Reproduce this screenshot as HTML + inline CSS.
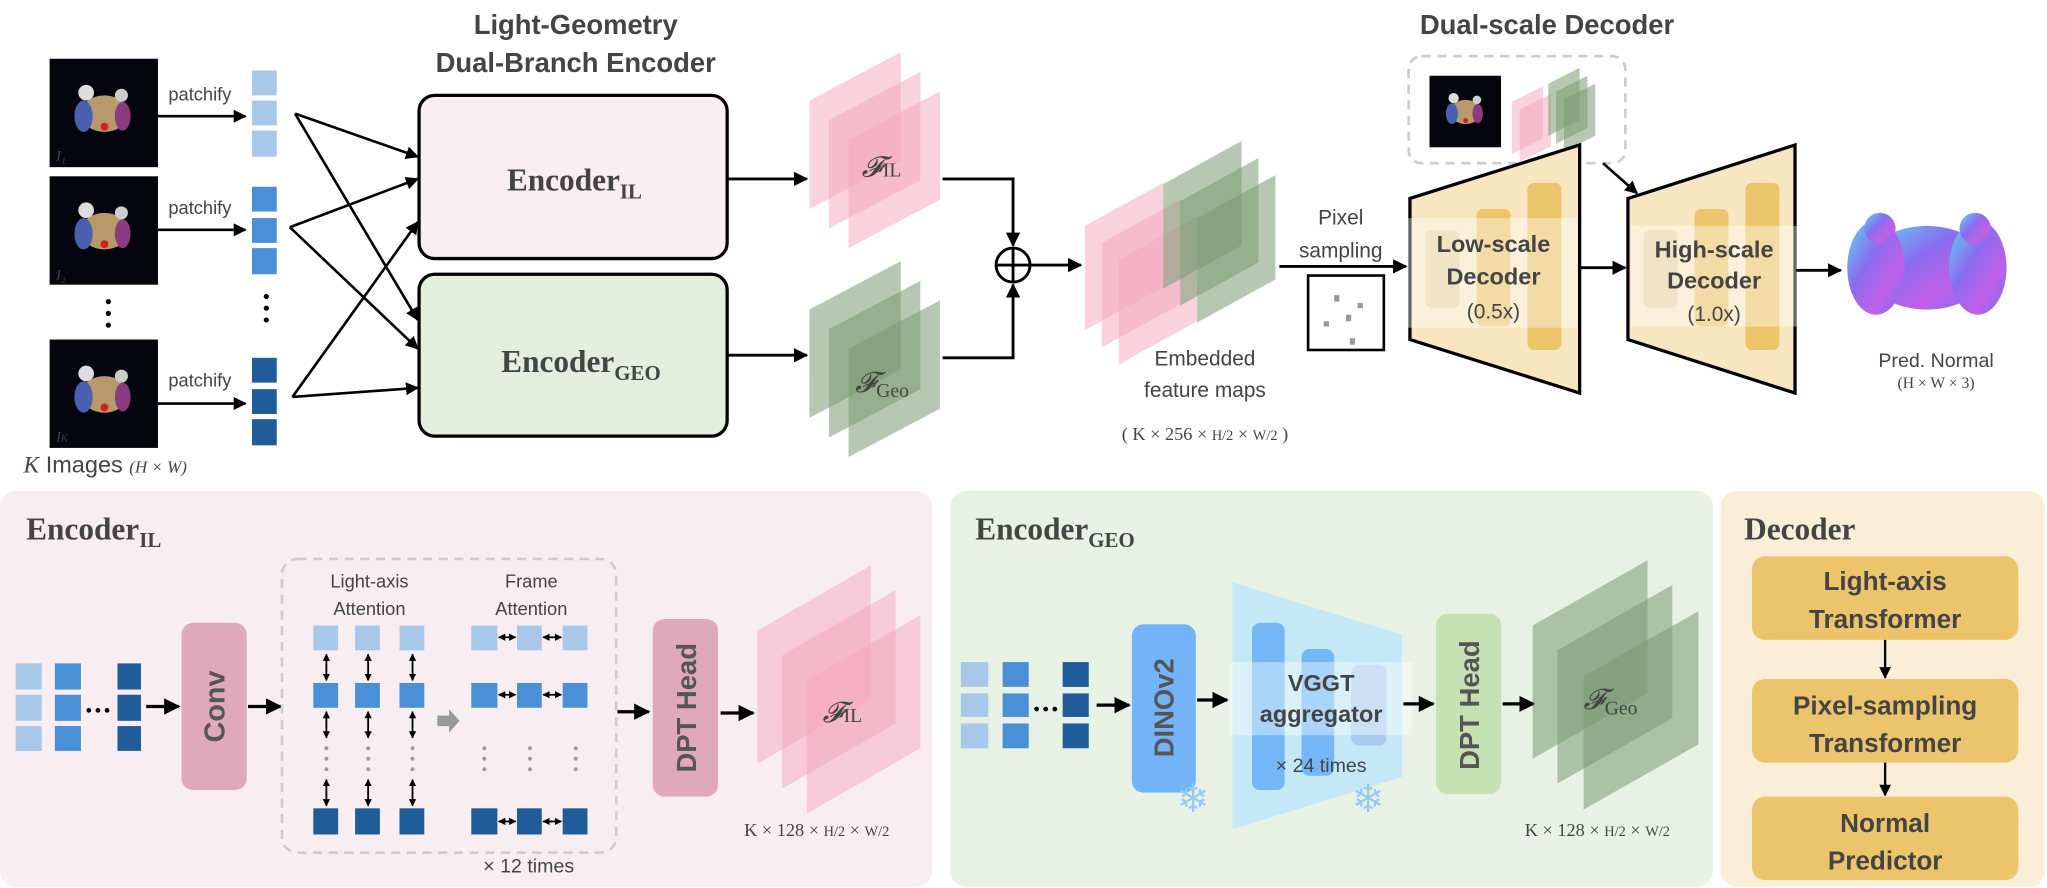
<!DOCTYPE html>
<html><head><meta charset="utf-8"><style>
html,body{margin:0;padding:0;background:#fff;}
svg{display:block;}
.t{font-family:"Liberation Sans Narrow","Liberation Sans",sans-serif;fill:#444;}
.s{font-family:"Liberation Serif",serif;fill:#444;}
.b{font-weight:bold;}
</style></head><body>
<svg width="2047" height="888" viewBox="0 0 1568 680" preserveAspectRatio="none" xmlns="http://www.w3.org/2000/svg">
<defs>
<marker id="ah" viewBox="0 0 10 10" refX="9" refY="5" markerWidth="5" markerHeight="5" orient="auto-start-reverse"><path d="M0,0 L10,5 L0,10 z" fill="#000"/></marker>
<marker id="as" viewBox="0 0 10 10" refX="9" refY="5" markerWidth="4" markerHeight="4" orient="auto-start-reverse"><path d="M0,0 L10,5 L0,10 z" fill="#000"/></marker>
<linearGradient id="ng" x1="0" y1="0" x2="1" y2="1"><stop offset="0" stop-color="#5fd8f0"/><stop offset="0.4" stop-color="#8a6cf0"/><stop offset="0.7" stop-color="#c060e8"/><stop offset="1" stop-color="#6f70f5"/></linearGradient>
<g id="thumb"><rect width="83" height="83" fill="#05050f"/><ellipse cx="42" cy="42" rx="18" ry="14" fill="#b89a6a"/><ellipse cx="26" cy="44" rx="7" ry="12" fill="#4a5fb0"/><ellipse cx="56" cy="44" rx="6" ry="11" fill="#8a3a80"/><circle cx="28" cy="26" r="6" fill="#ddd"/><circle cx="55" cy="28" r="5" fill="#ccc"/><circle cx="42" cy="52" r="3" fill="#d02020"/></g>
</defs>

<text class="t b" x="441" y="26" font-size="21" text-anchor="middle">Light-Geometry</text>
<text class="t b" x="441" y="55" font-size="21" text-anchor="middle">Dual-Branch Encoder</text>
<text class="t b" x="1185" y="26" font-size="21" text-anchor="middle">Dual-scale Decoder</text>

<use href="#thumb" x="38" y="45"/><text class="s" x="43" y="123" font-size="11" font-style="italic" fill="#666">I₁</text>
<use href="#thumb" x="38" y="135"/><text class="s" x="43" y="214" font-size="11" font-style="italic" fill="#666">I₂</text>
<use href="#thumb" x="38" y="260"/><text class="s" x="43" y="338" font-size="11" font-style="italic" fill="#666">I<tspan font-size="8">K</tspan></text>
<g fill="#000"><circle cx="83" cy="231" r="2"/><circle cx="83" cy="240" r="2"/><circle cx="83" cy="249" r="2"/><circle cx="204" cy="227" r="2"/><circle cx="204" cy="236" r="2"/><circle cx="204" cy="245" r="2"/></g>
<text class="t" x="18" y="362" font-size="18" fill="#333"><tspan font-family="Liberation Serif" font-style="italic">K</tspan> Images <tspan font-size="13" font-family="Liberation Serif" font-style="italic">(H × W)</tspan></text>

<g fill="#a8c8ea"><rect x="193" y="54" width="19" height="19"/><rect x="193" y="77" width="19" height="19"/><rect x="193" y="100" width="19" height="20"/></g>
<g fill="#4a90d6"><rect x="193" y="143" width="19" height="19"/><rect x="193" y="167" width="19" height="19"/><rect x="193" y="190" width="19" height="20"/></g>
<g fill="#1f5c99"><rect x="193" y="274" width="19" height="19"/><rect x="193" y="298" width="19" height="19"/><rect x="193" y="321" width="19" height="20"/></g>
<g class="t" font-size="14" fill="#333"><text x="129" y="77">patchify</text><text x="129" y="164">patchify</text><text x="129" y="296">patchify</text></g>
<g stroke="#000" stroke-width="2" fill="none" marker-end="url(#ah)">
<line x1="121" y1="89" x2="188" y2="89"/><line x1="121" y1="176" x2="188" y2="176"/><line x1="121" y1="309" x2="188" y2="309"/>
<line x1="226" y1="87" x2="320" y2="120"/><line x1="226" y1="87" x2="320" y2="245"/>
<line x1="222" y1="174" x2="320" y2="137"/><line x1="222" y1="174" x2="320" y2="267"/>
<line x1="224" y1="304" x2="320" y2="170"/><line x1="224" y1="304" x2="320" y2="297"/>
</g>

<rect x="321" y="73" width="236" height="125" rx="12" fill="#faeef2" stroke="#000" stroke-width="2.5"/>
<rect x="321" y="210" width="236" height="124" rx="12" fill="#e3efdc" stroke="#000" stroke-width="2.5"/>
<text class="s b" x="440" y="146" font-size="24" text-anchor="middle">Encoder<tspan font-size="16" dy="6">IL</tspan></text>
<text class="s b" x="445" y="285" font-size="24" text-anchor="middle">Encoder<tspan font-size="16" dy="6">GEO</tspan></text>
<g stroke="#000" stroke-width="2.2" fill="none" marker-end="url(#ah)">
<line x1="557" y1="137" x2="618" y2="137"/><line x1="557" y1="272" x2="618" y2="272"/>
</g>

<g fill="#f4a6be" fill-opacity="0.5">
<polygon points="620,77 690,40 690,123 620,160"/><polygon points="635,92 705,55 705,138 635,175"/><polygon points="650,107 720,70 720,153 650,190"/>
</g>
<g fill="#7a9a72" fill-opacity="0.55">
<polygon points="620,237 690,200 690,283 620,320"/><polygon points="635,252 705,215 705,298 635,335"/><polygon points="650,267 720,230 720,313 650,350"/>
</g>
<text class="s" x="660" y="135" font-size="22" font-style="italic" fill="#555">𝓕<tspan font-size="15" font-style="normal">IL</tspan></text>
<text class="s" x="655" y="300" font-size="22" font-style="italic" fill="#555">𝓕<tspan font-size="15" font-style="normal" dy="4">Geo</tspan></text>
<g stroke="#000" stroke-width="2.2" fill="none">
<polyline points="722,137 776,137 776,188" marker-end="url(#ah)"/>
<polyline points="722,274 776,274 776,218" marker-end="url(#ah)"/>
<circle cx="776" cy="203" r="13"/>
<line x1="763" y1="203" x2="789" y2="203"/><line x1="776" y1="190" x2="776" y2="216"/>
<line x1="790" y1="203" x2="828" y2="203" marker-end="url(#ah)"/>
</g>

<g fill="#f4a6be" fill-opacity="0.5">
<polygon points="831,173 891,140 891,220 831,253"/><polygon points="844,186 904,153 904,233 844,266"/><polygon points="857,199 917,166 917,246 857,279"/>
</g>
<g fill="#7a9a72" fill-opacity="0.55">
<polygon points="891,141 951,108 951,188 891,221"/><polygon points="904,154 964,121 964,201 904,234"/><polygon points="917,167 977,134 977,214 917,247"/>
</g>
<g class="t" font-size="16" fill="#444" text-anchor="middle"><text x="923" y="280">Embedded</text><text x="923" y="304">feature maps</text></g>
<text class="s" x="923" y="337" font-size="14" text-anchor="middle" fill="#444">( K × 256 × <tspan font-size="11">H/2</tspan> × <tspan font-size="11">W/2</tspan> )</text>

<g class="t" font-size="16" fill="#333" text-anchor="middle"><text x="1027" y="172">Pixel</text><text x="1027" y="197">sampling</text></g>
<line x1="980" y1="204" x2="1077" y2="204" stroke="#000" stroke-width="2.2" marker-end="url(#ah)"/>
<rect x="1002" y="211" width="58" height="57" fill="#fff" stroke="#000" stroke-width="2"/>
<g fill="#999"><rect x="1022" y="226" width="4" height="5"/><rect x="1040" y="232" width="4" height="4"/><rect x="1031" y="241" width="4" height="5"/><rect x="1014" y="246" width="4" height="4"/><rect x="1034" y="259" width="4" height="5"/></g>

<rect x="1079" y="43" width="166" height="82" rx="10" fill="none" stroke="#ccc" stroke-width="2" stroke-dasharray="7,5"/>
<use href="#thumb" transform="translate(1095,58) scale(0.66)"/>
<g fill="#f4a6be" fill-opacity="0.5"><polygon points="1158,78 1182,66 1182,106 1158,118"/><polygon points="1164,84 1188,72 1188,112 1164,124"/></g>
<g fill="#7a9a72" fill-opacity="0.55"><polygon points="1186,64 1210,52 1210,92 1186,104"/><polygon points="1192,70 1216,58 1216,98 1192,110"/><polygon points="1198,76 1222,64 1222,104 1198,116"/></g>
<line x1="1228" y1="125" x2="1254" y2="148" stroke="#000" stroke-width="2" marker-end="url(#ah)"/>

<polygon points="1080,152 1210,111 1210,301 1080,260" fill="#f8e6c0" stroke="#000" stroke-width="2.5"/>
<rect x="1092" y="176" width="26" height="60" rx="5" fill="#e8d3a0"/>
<rect x="1131" y="160" width="26" height="90" rx="5" fill="#ecc46a"/>
<rect x="1170" y="140" width="26" height="128" rx="5" fill="#ecc46a"/>
<rect x="1078" y="167" width="130" height="84" fill="#fff" fill-opacity="0.4"/>
<g class="t b" font-size="18" fill="#444" text-anchor="middle"><text x="1144" y="193">Low-scale</text><text x="1144" y="218">Decoder</text></g>
<text class="t" x="1144" y="244" font-size="16" fill="#555" text-anchor="middle">(0.5x)</text>
<line x1="1210" y1="205" x2="1245" y2="205" stroke="#000" stroke-width="2.2" marker-end="url(#ah)"/>

<polygon points="1247,152 1375,111 1375,301 1247,260" fill="#f8e6c0" stroke="#000" stroke-width="2.5"/>
<rect x="1259" y="176" width="26" height="60" rx="5" fill="#e8d3a0"/>
<rect x="1298" y="160" width="26" height="90" rx="5" fill="#ecc46a"/>
<rect x="1337" y="140" width="26" height="128" rx="5" fill="#ecc46a"/>
<rect x="1249" y="173" width="134" height="77" fill="#fff" fill-opacity="0.4"/>
<g class="t b" font-size="18" fill="#444" text-anchor="middle"><text x="1313" y="197">High-scale</text><text x="1313" y="221">Decoder</text></g>
<text class="t" x="1313" y="246" font-size="16" fill="#555" text-anchor="middle">(1.0x)</text>
<line x1="1376" y1="207" x2="1410" y2="207" stroke="#000" stroke-width="2.2" marker-end="url(#ah)"/>

<g fill="url(#ng)">
<ellipse cx="1476" cy="205" rx="48" ry="32"/>
<ellipse cx="1437" cy="205" rx="22" ry="36"/>
<ellipse cx="1515" cy="205" rx="22" ry="36"/>
<circle cx="1440" cy="175" r="12"/><circle cx="1513" cy="175" r="12"/>
</g>
<text class="t" x="1483" y="281" font-size="15" fill="#444" text-anchor="middle">Pred. Normal</text>
<text class="s" x="1483" y="297" font-size="12" fill="#444" text-anchor="middle">(H × W × 3)</text>

<rect x="0" y="376" width="714" height="303" rx="12" fill="#f8eef2"/>
<rect x="728" y="376" width="584" height="303" rx="12" fill="#e8f2e4"/>
<rect x="1318" y="376" width="248" height="303" rx="12" fill="#fbeed8"/>
<text class="s b" x="20" y="413" font-size="24">Encoder<tspan font-size="16" dy="6">IL</tspan></text>
<text class="s b" x="747" y="413" font-size="24">Encoder<tspan font-size="16" dy="6">GEO</tspan></text>
<text class="s b" x="1336" y="413" font-size="24">Decoder</text>

<g fill="#a8c8ea"><rect x="12" y="508" width="20" height="20"/><rect x="12" y="532" width="20" height="20"/><rect x="12" y="556" width="20" height="19"/></g>
<g fill="#4a90d6"><rect x="42" y="508" width="20" height="20"/><rect x="42" y="532" width="20" height="20"/><rect x="42" y="556" width="20" height="19"/></g>
<g fill="#1f5c99"><rect x="90" y="508" width="18" height="20"/><rect x="90" y="532" width="18" height="20"/><rect x="90" y="556" width="18" height="19"/></g>
<g fill="#000"><circle cx="68" cy="544" r="1.8"/><circle cx="75" cy="544" r="1.8"/><circle cx="82" cy="544" r="1.8"/></g>
<line x1="112" y1="541" x2="137" y2="541" stroke="#000" stroke-width="2.5" marker-end="url(#ah)"/>
<rect x="139" y="477" width="50" height="128" rx="9" fill="#dfa9bb"/>
<text x="0" y="0" font-family="Liberation Sans,sans-serif" font-weight="bold" font-size="22" fill="#555" text-anchor="middle" transform="translate(172,541) rotate(-90)">Conv</text>
<line x1="190" y1="541" x2="215" y2="541" stroke="#000" stroke-width="2.5" marker-end="url(#ah)"/>
<rect x="216" y="428" width="256" height="225" rx="12" fill="none" stroke="#ccc" stroke-width="2" stroke-dasharray="7,5"/>
<g class="t" font-size="14" fill="#444" text-anchor="middle"><text x="283" y="450">Light-axis</text><text x="283" y="471">Attention</text><text x="407" y="450">Frame</text><text x="407" y="471">Attention</text></g>
<g fill="#a8c8ea"><rect x="240" y="479" width="19" height="19"/><rect x="272" y="479" width="19" height="19"/><rect x="306" y="479" width="19" height="19"/><rect x="361" y="479" width="20" height="19"/><rect x="396" y="479" width="19" height="19"/><rect x="431" y="479" width="19" height="19"/></g>
<g fill="#4a90d6"><rect x="240" y="523" width="19" height="19"/><rect x="272" y="523" width="19" height="19"/><rect x="306" y="523" width="19" height="19"/><rect x="361" y="523" width="20" height="19"/><rect x="396" y="523" width="19" height="19"/><rect x="431" y="523" width="19" height="19"/></g>
<g fill="#1f5c99"><rect x="240" y="619" width="19" height="20"/><rect x="272" y="619" width="19" height="20"/><rect x="306" y="619" width="19" height="20"/><rect x="361" y="619" width="20" height="20"/><rect x="396" y="619" width="19" height="20"/><rect x="431" y="619" width="19" height="20"/></g>
<g stroke="#000" stroke-width="1.4" marker-end="url(#as)" marker-start="url(#as)">
<line x1="250" y1="501" x2="250" y2="521"/><line x1="282" y1="501" x2="282" y2="521"/><line x1="316" y1="501" x2="316" y2="521"/>
<line x1="250" y1="545" x2="250" y2="565"/><line x1="282" y1="545" x2="282" y2="565"/><line x1="316" y1="545" x2="316" y2="565"/>
<line x1="250" y1="597" x2="250" y2="617"/><line x1="282" y1="597" x2="282" y2="617"/><line x1="316" y1="597" x2="316" y2="617"/>
<line x1="382" y1="488" x2="395" y2="488"/><line x1="416" y1="488" x2="430" y2="488"/>
<line x1="382" y1="532" x2="395" y2="532"/><line x1="416" y1="532" x2="430" y2="532"/>
<line x1="382" y1="629" x2="395" y2="629"/><line x1="416" y1="629" x2="430" y2="629"/>
</g>
<g fill="#999"><circle cx="250" cy="573" r="1.5"/><circle cx="250" cy="581" r="1.5"/><circle cx="250" cy="589" r="1.5"/><circle cx="282" cy="573" r="1.5"/><circle cx="282" cy="581" r="1.5"/><circle cx="282" cy="589" r="1.5"/><circle cx="316" cy="573" r="1.5"/><circle cx="316" cy="581" r="1.5"/><circle cx="316" cy="589" r="1.5"/>
<circle cx="371" cy="573" r="1.5"/><circle cx="371" cy="581" r="1.5"/><circle cx="371" cy="589" r="1.5"/><circle cx="406" cy="573" r="1.5"/><circle cx="406" cy="581" r="1.5"/><circle cx="406" cy="589" r="1.5"/><circle cx="441" cy="573" r="1.5"/><circle cx="441" cy="581" r="1.5"/><circle cx="441" cy="589" r="1.5"/></g>
<polygon points="335,548 344,548 344,543 352,552 344,561 344,556 335,556" fill="#999"/>
<text class="t" x="405" y="668" font-size="15" fill="#444" text-anchor="middle">× 12 times</text>
<line x1="473" y1="545" x2="497" y2="545" stroke="#000" stroke-width="2.5" marker-end="url(#ah)"/>
<rect x="500" y="474" width="50" height="136" rx="9" fill="#dfa9bb"/>
<text x="0" y="0" font-family="Liberation Sans,sans-serif" font-weight="bold" font-size="21" fill="#555" text-anchor="middle" transform="translate(533,542) rotate(-90)">DPT Head</text>
<line x1="552" y1="546" x2="577" y2="546" stroke="#000" stroke-width="2.5" marker-end="url(#ah)"/>
<g fill="#f4a6be" fill-opacity="0.5">
<polygon points="580,483 667,433 667,535 580,585"/><polygon points="599,502 686,452 686,554 599,604"/><polygon points="618,521 705,471 705,573 618,623"/>
</g>
<text class="s" x="630" y="553" font-size="22" font-style="italic" fill="#555">𝓕<tspan font-size="15" font-style="normal">IL</tspan></text>
<text class="s" x="570" y="640" font-size="14" fill="#444">K × 128 × <tspan font-size="11">H/2</tspan> × <tspan font-size="11">W/2</tspan></text>

<g fill="#a8c8ea"><rect x="736" y="507" width="21" height="19"/><rect x="736" y="531" width="21" height="18"/><rect x="736" y="554" width="21" height="19"/></g>
<g fill="#4a90d6"><rect x="768" y="507" width="20" height="19"/><rect x="768" y="531" width="20" height="18"/><rect x="768" y="554" width="20" height="19"/></g>
<g fill="#1f5c99"><rect x="814" y="507" width="20" height="19"/><rect x="814" y="531" width="20" height="18"/><rect x="814" y="554" width="20" height="19"/></g>
<g fill="#000"><circle cx="794" cy="543" r="1.8"/><circle cx="801" cy="543" r="1.8"/><circle cx="808" cy="543" r="1.8"/></g>
<line x1="840" y1="540" x2="865" y2="540" stroke="#000" stroke-width="2.5" marker-end="url(#ah)"/>
<rect x="867" y="478" width="49" height="129" rx="9" fill="#72b4f7"/>
<text x="0" y="0" font-family="Liberation Sans,sans-serif" font-weight="bold" font-size="21" fill="#555" text-anchor="middle" transform="translate(899,542) rotate(-90)">DINOv2</text>
<text x="914" y="622" font-size="30" fill="#9cc9ef" text-anchor="middle">❄</text>
<line x1="917" y1="536" x2="940" y2="536" stroke="#000" stroke-width="2.5" marker-end="url(#ah)"/>
<polygon points="944,446 1074,486 1074,595 944,635" fill="#c4e8f6"/>
<rect x="959" y="477" width="25" height="128" rx="6" fill="#74b7f7"/>
<rect x="997" y="497" width="25" height="97" rx="6" fill="#74b7f7"/>
<rect x="1035" y="509" width="27" height="62" rx="6" fill="#a9cbef"/>
<rect x="942" y="507" width="140" height="56" fill="#fff" fill-opacity="0.4"/>
<g class="t b" font-size="18" fill="#444" text-anchor="middle"><text x="1012" y="529">VGGT</text><text x="1012" y="553">aggregator</text></g>
<text class="t" x="1012" y="591" font-size="15" fill="#555" text-anchor="middle">× 24 times</text>
<text x="1048" y="622" font-size="30" fill="#9cc9ef" text-anchor="middle">❄</text>
<line x1="1075" y1="539" x2="1098" y2="539" stroke="#000" stroke-width="2.5" marker-end="url(#ah)"/>
<rect x="1100" y="470" width="50" height="138" rx="9" fill="#c6e2b4"/>
<text x="0" y="0" font-family="Liberation Sans,sans-serif" font-weight="bold" font-size="21" fill="#555" text-anchor="middle" transform="translate(1133,540) rotate(-90)">DPT Head</text>
<line x1="1151" y1="539" x2="1175" y2="539" stroke="#000" stroke-width="2.5" marker-end="url(#ah)"/>
<g fill="#7a9a72" fill-opacity="0.55">
<polygon points="1174,479 1262,429 1262,531 1174,581"/><polygon points="1193,498 1281,448 1281,550 1193,600"/><polygon points="1213,518 1301,468 1301,570 1213,620"/>
</g>
<text class="s" x="1213" y="543" font-size="22" font-style="italic" fill="#555">𝓕<tspan font-size="15" font-style="normal" dy="4">Geo</tspan></text>
<text class="s" x="1168" y="640" font-size="14" fill="#444">K × 128 × <tspan font-size="11">H/2</tspan> × <tspan font-size="11">W/2</tspan></text>

<rect x="1342" y="426" width="204" height="64" rx="10" fill="#ecc46c"/>
<rect x="1342" y="520" width="204" height="64" rx="10" fill="#ecc46c"/>
<rect x="1342" y="610" width="204" height="64" rx="10" fill="#ecc46c"/>
<g class="t b" font-size="20" fill="#444" text-anchor="middle">
<text x="1444" y="452">Light-axis</text><text x="1444" y="481">Transformer</text>
<text x="1444" y="547">Pixel-sampling</text><text x="1444" y="576">Transformer</text>
<text x="1444" y="637">Normal</text><text x="1444" y="666">Predictor</text>
</g>
<g stroke="#000" stroke-width="1.8" marker-end="url(#ah)"><line x1="1444" y1="490" x2="1444" y2="519"/><line x1="1444" y1="584" x2="1444" y2="609"/></g>
</svg>
</body></html>
